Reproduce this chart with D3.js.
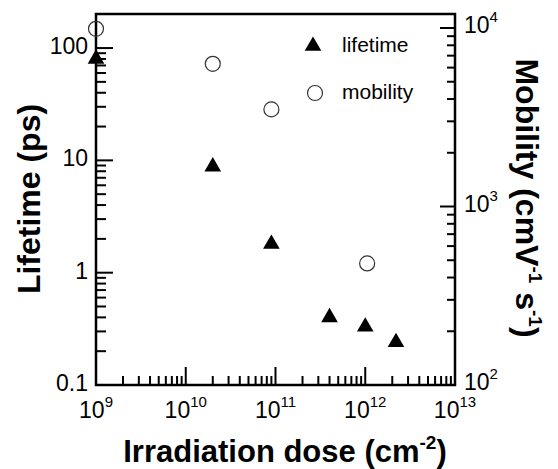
<!DOCTYPE html>
<html>
<head>
<meta charset="utf-8">
<script src="https://cdn.jsdelivr.net/npm/d3@7"></script>
<style>
  body { margin: 0; background: #fff; }
  svg { display: block; font-family: "Liberation Sans", Arial, sans-serif; }
</style>
</head>
<body>
<div id="chart"></div>
<script>
// data
var lifeDose = [1e9, 2e10, 9e10, 4e11, 1e12, 2.2e12];
var lifetime = [80, 8.8, 1.8, 0.40, 0.33, 0.24];
var mobDose = [1e9, 2e10, 9e10, 1.05e12];
var mobility = [9900, 6300, 3500, 480];

var xTicks = [9, 10, 11, 12, 13];        // exponents
var yLeftTicks = ["0.1", "1", "10", "100"];
var yRightTicks = [2, 3, 4];             // exponents

var W = 558, H = 469;
var m = {left: 96, right: 103, top: 14, bottom: 84};
var w = W - m.left - m.right, h = H - m.top - m.bottom;

var svg = d3.select("#chart").append("svg")
    .attr("width", W).attr("height", H);
var g = svg.append("g").attr("transform", "translate(" + m.left + "," + m.top + ")");

var x = d3.scaleLog().domain([1e9, 1e13]).range([0, w]);
var yL = d3.scaleLog().domain([0.1, 201]).range([h, 0]);
var yR = d3.scaleLog().domain([100, 11980]).range([h, 0]);

// minor ticks helper: 2..9 x 10^n plus majors
function logTicks(lo, hi) {
    var out = [];
    for (var e = lo; e < hi; e++) {
        for (var k = 1; k < 10; k++) out.push({v: k * Math.pow(10, e), major: k == 1});
    }
    out.push({v: Math.pow(10, hi), major: true});
    return out;
}

var stroke = "#000", lw = 2.5;

// frame
g.append("rect").attr("width", w).attr("height", h)
    .attr("fill", "none").attr("stroke", stroke).attr("stroke-width", lw);

// x ticks (inside, pointing up)
g.selectAll(".xt").data(logTicks(9, 13)).enter().append("line")
    .attr("class", "xt")
    .attr("x1", function(d) { return x(d.v); })
    .attr("x2", function(d) { return x(d.v); })
    .attr("y1", h)
    .attr("y2", function(d) { return h - (d.major ? 18 : 9); })
    .attr("stroke", stroke).attr("stroke-width", 2);

// left y ticks (inside, pointing right)
g.selectAll(".ylt").data(logTicks(-1, 2)).enter().append("line")
    .attr("class", "ylt")
    .attr("y1", function(d) { return yL(d.v); })
    .attr("y2", function(d) { return yL(d.v); })
    .attr("x1", 0)
    .attr("x2", function(d) { return d.major ? 17 : 10; })
    .attr("stroke", stroke).attr("stroke-width", 2);

// right y ticks (inside, pointing left)
g.selectAll(".yrt").data(logTicks(2, 4)).enter().append("line")
    .attr("class", "yrt")
    .attr("y1", function(d) { return yR(d.v); })
    .attr("y2", function(d) { return yR(d.v); })
    .attr("x1", w)
    .attr("x2", function(d) { return w - (d.major ? 15 : 8); })
    .attr("stroke", stroke).attr("stroke-width", 2);

// tick labels
var fs = 23, sfs = 15;
g.selectAll(".xl").data(xTicks).enter().append("text")
    .attr("class", "xl")
    .attr("x", function(d) { return x(Math.pow(10, d)); })
    .attr("y", h + 33)
    .attr("text-anchor", "middle")
    .attr("font-size", fs)
    .each(function(d) {
        var t = d3.select(this);
        t.append("tspan").text("10");
        t.append("tspan").attr("font-size", sfs).attr("dy", -11).text(d);
    });

g.selectAll(".yll").data(yLeftTicks).enter().append("text")
    .attr("class", "yll")
    .attr("x", -8)
    .attr("y", function(d) { return yL(+d) + 6; })
    .attr("text-anchor", "end")
    .attr("font-size", fs)
    .text(function(d) { return d; });

g.selectAll(".yrl").data(yRightTicks).enter().append("text")
    .attr("class", "yrl")
    .attr("x", w + 9)
    .attr("y", function(d) { return yR(Math.pow(10, d)) + 5; })
    .attr("font-size", fs)
    .each(function(d) {
        var t = d3.select(this);
        t.append("tspan").text("10");
        t.append("tspan").attr("font-size", sfs).attr("dy", -11).text(d);
    });

// axis titles
svg.append("text")
    .attr("x", 285).attr("y", 462)
    .attr("text-anchor", "middle")
    .attr("font-size", 31).attr("font-weight", "bold")
    .each(function() {
        var t = d3.select(this);
        t.append("tspan").text("Irradiation dose (cm");
        t.append("tspan").attr("font-size", 19).attr("dy", -13).text("-2");
        t.append("tspan").attr("dy", 13).text(")");
    });

svg.append("text")
    .attr("transform", "translate(40,199) rotate(-90)")
    .attr("text-anchor", "middle")
    .attr("font-size", 32).attr("font-weight", "bold")
    .text("Lifetime (ps)");

svg.append("text")
    .attr("transform", "translate(516,198) rotate(90)")
    .attr("text-anchor", "middle")
    .attr("font-size", 32).attr("font-weight", "bold")
    .each(function() {
        var t = d3.select(this);
        t.append("tspan").text("Mobility (cmV");
        t.append("tspan").attr("font-size", 19).attr("dy", -13).text("-1");
        t.append("tspan").attr("dy", 13).text(" s");
        t.append("tspan").attr("font-size", 19).attr("dy", -13).text("-1");
        t.append("tspan").attr("dy", 13).text(")");
    });

// markers
var tri = d3.symbol().type(d3.symbolTriangle).size(120);

g.selectAll(".mob").data(mobDose).enter().append("circle")
    .attr("class", "mob")
    .attr("cx", function(d) { return x(d); })
    .attr("cy", function(d, i) { return yR(mobility[i]); })
    .attr("r", 7.5)
    .attr("fill", "none").attr("stroke", "#333").attr("stroke-width", 1.2);

g.selectAll(".life").data(lifeDose).enter().append("path")
    .attr("class", "life")
    .attr("d", tri)
    .attr("transform", function(d, i) { return "translate(" + x(d) + "," + yL(lifetime[i]) + ")"; })
    .attr("fill", "#000");

// legend
var lg = svg.append("g");
lg.append("path").attr("d", tri)
    .attr("transform", "translate(313,46)").attr("fill", "#000");
lg.append("text").attr("x", 342).attr("y", 52).attr("font-size", 21).text("lifetime");
lg.append("circle").attr("cx", 315).attr("cy", 93).attr("r", 7.5)
    .attr("fill", "none").attr("stroke", "#333").attr("stroke-width", 1.2);
lg.append("text").attr("x", 342).attr("y", 99).attr("font-size", 21).text("mobility");
</script>
</body>
</html>
